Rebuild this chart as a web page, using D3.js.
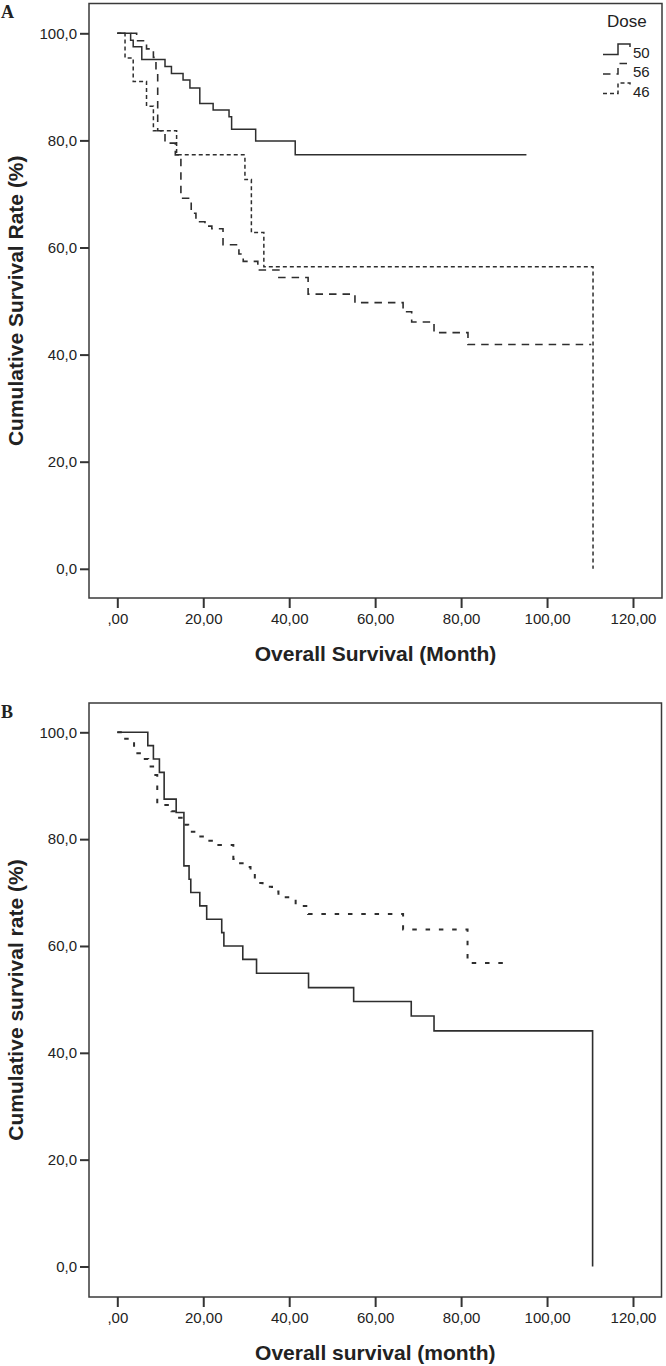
<!DOCTYPE html>
<html>
<head>
<meta charset="utf-8">
<script src="https://cdn.jsdelivr.net/npm/d3@7"></script>
<style>
  html, body { margin: 0; padding: 0; background: #fff; }
  svg { display: block; }
  text { font-family: "Liberation Sans", Arial, sans-serif; fill: #222; }
</style>
</head>
<body>
<svg id="chart" width="666" height="1366"></svg>
<script>
// ---------- data ----------
const xTicks = [0, 20, 40, 60, 80, 100, 120];
const yTicks = [0, 20, 40, 60, 80, 100];
const doseLabels = ["50", "56", "46"];

// Panel A – dose 50 (solid)
const a50Time = [0, 3.1, 3.7, 5.7, 11.1, 12.6, 15.3, 16.9, 19.2, 22.3, 26.0, 26.6, 32.2, 41.4];
const a50Surv = [100, 98.7, 97.5, 95.1, 93.8, 92.5, 91.3, 89.8, 86.9, 85.7, 84.4, 82.1, 79.9, 77.3];
const a50End = 95.2;
// Panel A – dose 56 (long dash)
const a56Time = [0, 4.5, 6.8, 8.4, 9.0, 9.4, 11.1, 13.5, 14.8, 17.2, 18.3, 20.4, 22.0, 24.6, 28.3, 29.3, 32.7, 37.6, 44.4, 55.3, 66.5, 68.5, 73.7, 81.6];
const a56Surv = [100, 98.6, 97.1, 95.5, 93.2, 81.8, 79.5, 77.3, 69.2, 66.4, 64.8, 64.0, 63.5, 60.5, 58.8, 57.4, 55.8, 54.4, 51.3, 49.7, 48.0, 46.1, 44.1, 41.9];
const a56End = 110.3;
// Panel A – dose 46 (short dash)
const a46Time = [0, 1.8, 3.7, 6.8, 8.4, 13.8, 29.7, 31.2, 34.1, 110.7];
const a46Surv = [100, 95.4, 91.0, 86.4, 81.8, 77.3, 72.7, 62.8, 56.4, 0];
const a46End = 110.7;

// Panel B – solid
const bSolidTime = [0, 7.1, 8.4, 9.8, 10.9, 13.7, 15.5, 16.7, 17.1, 19.2, 20.8, 24.3, 24.8, 29.2, 32.4, 44.5, 55.0, 68.4, 73.7, 110.6];
const bSolidSurv = [100, 97.5, 95.0, 92.5, 87.5, 85.0, 75.0, 72.5, 70.0, 67.5, 65.0, 62.5, 60.0, 57.5, 54.9, 52.2, 49.6, 46.9, 44.1, 0];
const bSolidEnd = 110.6;
// Panel B – dotted
const bDotTime = [0, 1.5, 3.9, 5.8, 7.2, 8.6, 9.3, 12.6, 13.8, 15.5, 16.5, 18.3, 20.2, 22.0, 27.0, 28.1, 29.5, 31.0, 32.0, 33.8, 36.0, 37.5, 41.5, 44.4, 66.5, 81.5];
const bDotSurv = [100, 98.8, 96.1, 95.0, 93.6, 92.0, 86.4, 85.2, 84.0, 82.7, 81.4, 80.5, 79.7, 78.9, 76.3, 75.5, 74.8, 73.6, 71.8, 71.1, 70.2, 69.1, 67.5, 66.0, 63.1, 56.8];
const bDotEnd = 89.8;

// ---------- drawing ----------
const svg = d3.select("#chart");
const ink = "#2e2e2e";

const x = d3.scaleLinear().domain([0, 120]).range([117.3, 633]);

const fmtY = v => d3.format(".1f")(v).replace(".", ",");
const fmtX = v => (v === 0 ? ",00" : d3.format(".2f")(v).replace(".", ","));

function panel(cfg) {
  const y = d3.scaleLinear().domain([0, 100]).range([cfg.y0, cfg.y100]);
  const g = svg.append("g");

  // frame
  g.append("rect")
    .attr("x", cfg.left).attr("y", cfg.top)
    .attr("width", cfg.right - cfg.left).attr("height", cfg.bottom - cfg.top)
    .attr("fill", "none").attr("stroke", "#3a3a3a").attr("stroke-width", 1.5);

  // y axis
  const ya = g.append("g").attr("transform", `translate(${cfg.left},0)`)
    .call(d3.axisLeft(y).tickValues(yTicks).tickSize(9).tickPadding(3).tickFormat(fmtY));
  ya.select(".domain").remove();
  ya.selectAll("line").attr("stroke", "#333").attr("stroke-width", 2);
  ya.selectAll("text").attr("font-size", 15).attr("fill", "#222")
    .style("font-family", '"Liberation Sans", Arial, sans-serif');

  // x axis
  const xa = g.append("g").attr("transform", `translate(0,${cfg.bottom})`)
    .call(d3.axisBottom(x).tickValues(xTicks).tickSize(10).tickPadding(5).tickFormat(fmtX));
  xa.select(".domain").remove();
  xa.selectAll("line").attr("stroke", "#333").attr("stroke-width", 2);
  xa.selectAll("text").attr("font-size", 15).attr("fill", "#222")
    .style("font-family", '"Liberation Sans", Arial, sans-serif');

  // titles
  g.append("text")
    .attr("x", (cfg.left + cfg.right) / 2).attr("y", cfg.xTitleY)
    .attr("text-anchor", "middle").attr("dominant-baseline", "central")
    .attr("font-size", 21).attr("font-weight", "bold")
    .text(cfg.xTitle);
  g.append("text")
    .attr("transform", `translate(15,${(cfg.top + cfg.bottom) / 2}) rotate(-90)`)
    .attr("text-anchor", "middle").attr("dominant-baseline", "central")
    .attr("font-size", 21).attr("font-weight", "bold")
    .text(cfg.yTitle);

  // panel letter
  g.append("text")
    .attr("x", 1).attr("y", cfg.letterY)
    .style("font-family", '"Liberation Serif", "Times New Roman", serif')
    .attr("font-size", 18).attr("font-weight", "bold")
    .text(cfg.letter);

  // curves
  const line = d3.line().x(d => x(d[0])).y(d => y(d[1])).curve(d3.curveStepAfter);
  cfg.series.forEach(s => {
    const pts = s.time.map((t, i) => [t, s.surv[i]]);
    const last = pts[pts.length - 1];
    if (s.end > last[0]) pts.push([s.end, last[1]]);
    g.append("path")
      .attr("d", line(pts))
      .attr("fill", "none")
      .attr("stroke", ink)
      .attr("stroke-width", s.width)
      .attr("stroke-dasharray", s.dash);
  });
  return { g, y };
}

const seriesA = [
  { time: a50Time, surv: a50Surv, end: a50End, dash: null, width: 1.5 },
  { time: a56Time, surv: a56Surv, end: a56End, dash: "7.5,6", width: 1.6 },
  { time: a46Time, surv: a46Surv, end: a46End, dash: "4,3", width: 1.5 }
];

const pA = panel({
  left: 89, right: 662, top: 3.5, bottom: 598,
  y0: 568.8, y100: 33.3,
  xTitle: "Overall Survival (Month)", xTitleY: 653,
  yTitle: "Cumulative Survival Rate (%)",
  letter: "A", letterY: 18,
  series: seriesA
});

panel({
  left: 89, right: 661.5, top: 703, bottom: 1297,
  y0: 1266.5, y100: 732.3,
  xTitle: "Overall survival (month)", xTitleY: 1352,
  yTitle: "Cumulative survival rate (%)",
  letter: "B", letterY: 718,
  series: [
    { time: bSolidTime, surv: bSolidSurv, end: bSolidEnd, dash: null, width: 1.6 },
    { time: bDotTime, surv: bDotSurv, end: bDotEnd, dash: "4.5,8.8", width: 2 }
  ]
});

// legend (panel A)
const lg = pA.g.append("g").attr("transform", "translate(603,0)");
lg.append("text").attr("x", 4).attr("y", 27).attr("font-size", 17).text("Dose");
seriesA.forEach((s, i) => {
  const cy = 52 + i * 19.5;
  lg.append("path")
    .attr("d", `M0,${cy + 2.5} H15 V${cy - 8} H27 V${cy - 5}`)
    .attr("fill", "none").attr("stroke", ink).attr("stroke-width", 1.5)
    .attr("stroke-dasharray", s.dash);
  lg.append("text").attr("x", 30).attr("y", cy + 5.5).attr("font-size", 15).text(doseLabels[i]);
});
</script>
</body>
</html>
